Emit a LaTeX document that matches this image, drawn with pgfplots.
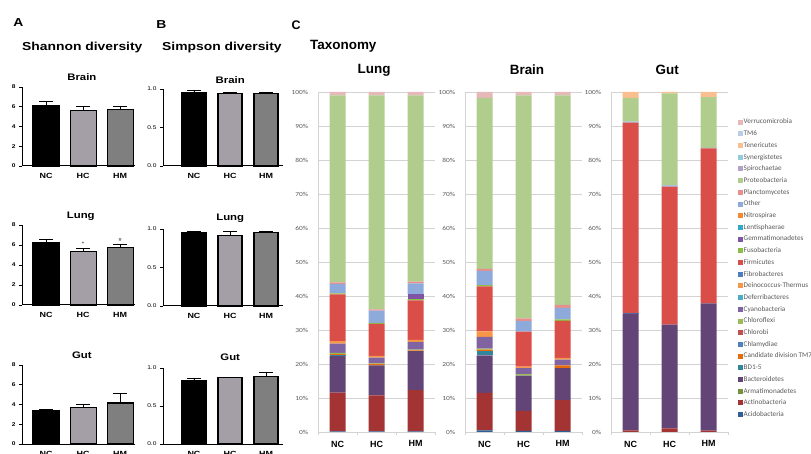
\documentclass[border=0pt]{standalone}
\usepackage{fontspec}
\setmainfont{Liberation Sans}
\newfontfamily\gpfont[FakeStretch=1.2]{Liberation Sans}
\newfontfamily\carlito{Carlito}
\newfontfamily\xlfont[FakeStretch=1.2]{Carlito}
\usepackage{pgfplots}
\pgfplotsset{compat=1.18}
\usepackage{pgfplotstable}

\definecolor{cAcid}{HTML}{2F5F96}
\definecolor{cActi}{HTML}{A33433}
\definecolor{cArma}{HTML}{76923C}
\definecolor{cBact}{HTML}{634476}
\definecolor{cBD}{HTML}{31859C}
\definecolor{cCand}{HTML}{E46C0A}
\definecolor{cChla}{HTML}{4F81BD}
\definecolor{cChlb}{HTML}{C0504D}
\definecolor{cChlf}{HTML}{9BBB59}
\definecolor{cCyan}{HTML}{8064A2}
\definecolor{cDefe}{HTML}{4BACC6}
\definecolor{cDein}{HTML}{F79646}
\definecolor{cFibr}{HTML}{4A7EC0}
\definecolor{cFirm}{HTML}{DA4E49}
\definecolor{cFuso}{HTML}{8CBD45}
\definecolor{cGemm}{HTML}{7E55A4}
\definecolor{cLent}{HTML}{30A8C8}
\definecolor{cNitr}{HTML}{F8882F}
\definecolor{cOthe}{HTML}{8EAADB}
\definecolor{cPlan}{HTML}{E6908E}
\definecolor{cProt}{HTML}{B0CD8D}
\definecolor{cSpir}{HTML}{B3A2C7}
\definecolor{cSyne}{HTML}{93CDDD}
\definecolor{cTene}{HTML}{FABF8F}
\definecolor{cTMsix}{HTML}{B9CDE5}
\definecolor{cVerr}{HTML}{E6B9B8}
\definecolor{gHC}{HTML}{A49FA6}
\definecolor{gHM}{HTML}{7F7F7F}
\definecolor{xlgrid}{HTML}{D3D3D3}
\definecolor{xltext}{HTML}{595959}

\pgfplotscreateplotcyclelist{phyla}{
fill=cAcid,draw=none\\ fill=cActi,draw=none\\ fill=cArma,draw=none\\ fill=cBact,draw=none\\
fill=cBD,draw=none\\ fill=cCand,draw=none\\ fill=cChla,draw=none\\ fill=cChlb,draw=none\\
fill=cChlf,draw=none\\ fill=cCyan,draw=none\\ fill=cDefe,draw=none\\ fill=cDein,draw=none\\
fill=cFibr,draw=none\\ fill=cFirm,draw=none\\ fill=cFuso,draw=none\\ fill=cGemm,draw=none\\
fill=cLent,draw=none\\ fill=cNitr,draw=none\\ fill=cOthe,draw=none\\ fill=cPlan,draw=none\\
fill=cProt,draw=none\\ fill=cSpir,draw=none\\ fill=cSyne,draw=none\\ fill=cTene,draw=none\\
fill=cTMsix,draw=none\\ fill=cVerr,draw=none\\
}

\pgfplotstableread{
x Acid Acti Arma Bact BD Cand Chla Chlb Chlf Cyan Defe Dein Fibr Firm Fuso Gemm Lent Nitr Othe Plan Prot Spir Syne Tene TMsix Verr
0 0.2 11.4 0 10.7 0.2 0.4 0 0 0.4 2.7 0 0.7 0 13.8 0.3 0 0 0 2.8 0.4 55.0 0 0 0 0 1.0
1 0.2 10.6 0 8.8 0 0.4 0 0 0.2 1.7 0 0.5 0 9.4 0.3 0 0 0 3.6 0.4 62.9 0 0 0 0 1.0
2 0.2 12.1 0 11.5 0 0.2 0 0 0.2 2.3 0 0.6 0 11.6 0.4 1.4 0 0 3.2 0.5 54.8 0 0 0 0 1.0
}\lungtab
\pgfplotstableread{
x Acid Acti Arma Bact BD Cand Chla Chlb Chlf Cyan Defe Dein Fibr Firm Fuso Gemm Lent Nitr Othe Plan Prot Spir Syne Tene TMsix Verr
0 0.5 11.0 0 11.0 1.3 0.4 0 0 0.3 3.5 0 1.6 0 13.2 0.4 0 0 0 4.2 0.6 50.3 0 0 0 0 1.7
1 0.3 5.9 0 10.4 0 0 0 0 0.4 1.8 0 0.4 0 10.3 0 0 0 0 3.1 0.8 65.6 0 0 0 0 1.0
2 0.3 9.1 0 9.4 0 0.8 0 0 0 1.7 0 0.5 0 10.9 0.4 0 0 0 3.4 0.9 61.6 0 0 0 0 1.0
}\braintab
\pgfplotstableread{
x Acid Acti Arma Bact BD Cand Chla Chlb Chlf Cyan Defe Dein Fibr Firm Fuso Gemm Lent Nitr Othe Plan Prot Spir Syne Tene TMsix Verr
0 0 0.5 0 34.3 0 0 0 0 0 0 0 0 0.2 56.0 0 0 0 0 0.3 0 7.0 0 0 1.7 0 0
1 0 1.1 0 30.5 0 0 0 0 0 0 0 0 0 40.6 0 0 0 0 0.3 0 27.1 0 0 0.4 0 0
2 0 0.4 0 37.4 0 0 0 0 0 0 0 0 0 45.6 0 0 0 0 0.2 0 14.9 0 0 1.5 0 0
}\guttab

\pgfplotsset{
  gpaxis/.style={
    scale only axis, ybar, bar shift=0pt,
    axis x line*=bottom, axis y line*=left,
    axis line style={line width=1bp, black},
    ymin=0, clip=false,
    xtick={0,1,2}, xticklabels={NC,HC,HM},
    major x tick style={draw=none},
    tick align=outside, major tick length=3bp,
    ytick style={line width=0.8bp, black},
    xticklabel style={font=\gpfont\bfseries\fontsize{7.5}{8}\selectfont, yshift=-1bp},
    /pgf/number format/assume math mode=true,
    title style={font=\gpfont\bfseries\fontsize{9.5}{11}\selectfont, anchor=center},
  },
  shan/.style={gpaxis, width=113bp, xmin=-0.65, xmax=2.4, bar width=26bp, ymax=8,
    ytick={0,2,4,6,8},
    yticklabel style={font=\gpfont\bfseries\fontsize{5.5}{6}\selectfont}},
  simp/.style={gpaxis, width=120bp, xmin=-0.86, xmax=2.47, bar width=24bp, ymax=1,
    ytick={0,0.5,1},
    yticklabel style={font=\gpfont\fontsize{5.5}{6}\selectfont,
      /pgf/number format/fixed, /pgf/number format/fixed zerofill, /pgf/number format/precision=1}},
  eb/.style={draw=black, line width=1.2bp,
    error bars/y dir=plus, error bars/y explicit,
    error bars/error bar style={line width=0.8bp, black},
    error bars/error mark options={rotate=90, line width=0.8bp, black, mark size=7bp}},
  xlaxis/.style={
    scale only axis, ybar stacked, bar width=16bp,
    width=117bp, height=340bp,
    xmin=-0.5, xmax=2.5, ymin=0, ymax=100,
    cycle list name=phyla,
    axis x line*=bottom, axis y line*=left,
    axis line style={xlgrid, line width=0.8bp},
    ymajorgrids, grid style={xlgrid, line width=0.7bp},
    ytick={0,10,...,100},
    yticklabel={\pgfmathprintnumber{\tick}\%},
    major y tick style={draw=none},
    yticklabel style={font=\xlfont\fontsize{6.2}{7}\selectfont, text=xltext, xshift=-2bp},
    xtick={0,1,2}, xticklabels={NC,HC,HM},
    major x tick style={draw=none},
    minor xtick={-0.5,0.5,1.5,2.5},
    minor x tick style={xlgrid, line width=0.8bp},
    tick align=outside, minor tick length=3bp,
    xticklabel style={font=\bfseries\fontsize{9}{10}\selectfont, yshift=-1bp},
    /pgf/number format/assume math mode=true,
    title style={font=\bfseries\fontsize{13.5}{15}\selectfont, anchor=center, yshift=16bp},
  },
}

\begin{document}
\begin{tikzpicture}

% ---------- panel labels and headings ----------
\node[font=\gpfont\bfseries\fontsize{11.6}{13}\selectfont, inner sep=0pt] at (18.5bp,431bp) {A};
\node[font=\gpfont\bfseries\fontsize{11.6}{13}\selectfont, inner sep=0pt] at (161.5bp,429bp) {B};
\node[font=\bfseries\fontsize{12.5}{14}\selectfont, inner sep=0pt] at (296bp,429bp) {C};
\node[font=\gpfont\bfseries\fontsize{11.6}{13}\selectfont, inner sep=0pt, anchor=base west] at (22bp,403.5bp) {Shannon diversity};
\node[font=\gpfont\bfseries\fontsize{11.6}{13}\selectfont, inner sep=0pt, anchor=base west] at (162bp,403.5bp) {Simpson diversity};
\node[font=\bfseries\fontsize{13.5}{15}\selectfont, inner sep=0pt, anchor=base west] at (310bp,404bp) {Taxonomy};

% ---------- A: Shannon ----------
\begin{axis}[shan, at={(22bp,288bp)}, anchor=south west, height=79bp,
  title=Brain, title style={at={(0.53,1)}, yshift=4bp}]
\addplot[fill=black, eb] coordinates {(0,6.15) +- (0,0.35)};
\addplot[fill=gHC, eb] coordinates {(1,5.64) +- (0,0.36)};
\addplot[fill=gHM, eb] coordinates {(2,5.74) +- (0,0.34)};
\end{axis}

\begin{axis}[shan, at={(22bp,149bp)}, anchor=south west, height=80bp,
  title=Lung, title style={at={(0.52,1)}, yshift=3bp}]
\addplot[fill=black, eb] coordinates {(0,6.27) +- (0,0.33)};
\addplot[fill=gHC, eb] coordinates {(1,5.37) +- (0,0.30)};
\addplot[fill=gHM, eb] coordinates {(2,5.77) +- (0,0.33)};
\node[font=\gpfont\fontsize{5}{6}\selectfont] at (axis cs:1,6.1) {*};
\node[font=\gpfont\fontsize{4.5}{6}\selectfont] at (axis cs:2,6.5) {\#};
\end{axis}

\begin{axis}[shan, at={(22bp,10bp)}, anchor=south west, height=79bp,
  title=Gut, title style={at={(0.53,1)}, yshift=4bp}]
\addplot[fill=black, eb] coordinates {(0,3.37) +- (0,0.13)};
\addplot[fill=gHC, eb] coordinates {(1,3.71) +- (0,0.27)};
\addplot[fill=gHM, eb] coordinates {(2,4.15) +- (0,1.01)};
\end{axis}

% ---------- B: Simpson ----------
\begin{axis}[simp, at={(163bp,288bp)}, anchor=south west, height=77bp,
  title=Brain, title style={at={(0.56,1)}, yshift=3bp}]
\addplot[fill=black, eb] coordinates {(0,0.957) +- (0,0.021)};
\addplot[fill=gHC, eb] coordinates {(1,0.940) +- (0,0.020)};
\addplot[fill=gHM, eb] coordinates {(2,0.940) +- (0,0.015)};
\end{axis}

\begin{axis}[simp, at={(163bp,148bp)}, anchor=south west, height=77bp,
  title=Lung, title style={at={(0.56,1)}, yshift=5bp}]
\addplot[fill=black, eb] coordinates {(0,0.957) +- (0,0.018)};
\addplot[fill=gHC, eb] coordinates {(1,0.918) +- (0,0.052)};
\addplot[fill=gHM, eb] coordinates {(2,0.953) +- (0,0.017)};
\end{axis}

\begin{axis}[simp, at={(163bp,10bp)}, anchor=south west, height=76bp,
  title=Gut, title style={at={(0.56,1)}, yshift=5bp}]
\addplot[fill=black, eb] coordinates {(0,0.829) +- (0,0.031)};
\addplot[fill=gHC, eb] coordinates {(1,0.872) +- (0,0.005)};
\addplot[fill=gHM, eb] coordinates {(2,0.890) +- (0,0.053)};
\end{axis}

% ---------- C: Taxonomy ----------
\begin{axis}[xlaxis, at={(318bp,22bp)}, anchor=south west,
  title=Lung, title style={at={(0.48,1)}}]
\pgfplotsinvokeforeach{Acid,Acti,Arma,Bact,BD,Cand,Chla,Chlb,Chlf,Cyan,Defe,Dein,Fibr,Firm,Fuso,Gemm,Lent,Nitr,Othe,Plan,Prot,Spir,Syne,Tene,TMsix,Verr}{
  \addplot table[x=x, y=#1] {\lungtab};
}
\end{axis}

\begin{axis}[xlaxis, at={(465bp,22bp)}, anchor=south west,
  title=Brain, title style={at={(0.53,1)}}]
\pgfplotsinvokeforeach{Acid,Acti,Arma,Bact,BD,Cand,Chla,Chlb,Chlf,Cyan,Defe,Dein,Fibr,Firm,Fuso,Gemm,Lent,Nitr,Othe,Plan,Prot,Spir,Syne,Tene,TMsix,Verr}{
  \addplot table[x=x, y=#1] {\braintab};
}
\end{axis}

\begin{axis}[xlaxis, at={(611bp,22bp)}, anchor=south west,
  title=Gut, title style={at={(0.48,1)}},
  legend image code/.code={\fill[#1] (0bp,-2.5bp) rectangle (5bp,2.5bp);},
  reverse legend, legend cell align=left,
  legend style={at={(1.085,0.923)}, anchor=north west, draw=none, fill=none,
    font=\carlito\fontsize{7.2}{8}\selectfont, text=xltext, row sep=4.1bp, inner sep=0pt,
    nodes={inner sep=0.6bp, text height=5bp, text depth=1.4bp}}]
\pgfplotsinvokeforeach{Acid,Acti,Arma,Bact,BD,Cand,Chla,Chlb,Chlf,Cyan,Defe,Dein,Fibr,Firm,Fuso,Gemm,Lent,Nitr,Othe,Plan,Prot,Spir,Syne,Tene,TMsix,Verr}{
  \addplot table[x=x, y=#1] {\guttab};
}
\legend{Acidobacteria,Actinobacteria,Armatimonadetes,Bacteroidetes,BD1-5,Candidate division TM7,Chlamydiae,Chlorobi,Chloroflexi,Cyanobacteria,Deferribacteres,Deinococcus-Thermus,Fibrobacteres,Firmicutes,Fusobacteria,Gemmatimonadetes,Lentisphaerae,Nitrospirae,Other,Planctomycetes,Proteobacteria,Spirochaetae,Synergistetes,Tenericutes,TM6,Verrucomicrobia}
\end{axis}

\pgfresetboundingbox
\path[use as bounding box] (0bp,0bp) rectangle (811bp,454bp);
\end{tikzpicture}
\end{document}
